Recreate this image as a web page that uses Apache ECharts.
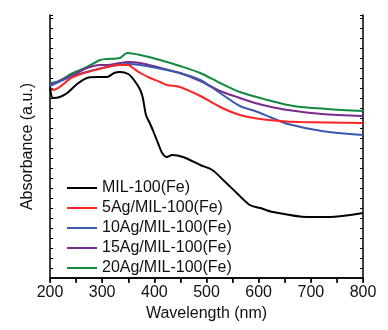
<!DOCTYPE html>
<html>
<head>
<meta charset="utf-8">
<script src="https://cdn.jsdelivr.net/npm/echarts@6/dist/echarts.min.js"></script>
<style>
  html, body { margin: 0; padding: 0; background: #fff; }
  #chart { width: 388px; height: 330px; }
</style>
</head>
<body>
<div id="chart"></div>
<script>
// wavelength (nm) / absorbance (a.u.)
var names = ["MIL-100(Fe)", "5Ag/MIL-100(Fe)", "10Ag/MIL-100(Fe)", "15Ag/MIL-100(Fe)", "20Ag/MIL-100(Fe)"];
var colors = ["#000000", "#ff2424", "#3b58ac", "#7a2c8c", "#13883f"];
var xTicks = [200, 300, 400, 500, 600, 700, 800];

var milX = [200, 206, 219, 233, 252, 271, 290, 309, 323, 334, 350, 361, 373, 378, 384, 392, 397, 407, 415, 424, 434, 455, 488, 511, 532, 558, 583, 603, 627, 693, 731, 775, 800];
var milY = [1.91, 1.80, 1.81, 1.85, 1.94, 2.00, 2.01, 2.01, 2.05, 2.06, 2.04, 1.98, 1.88, 1.80, 1.63, 1.54, 1.48, 1.35, 1.25, 1.21, 1.23, 1.21, 1.13, 1.08, 0.98, 0.85, 0.73, 0.70, 0.66, 0.61, 0.61, 0.63, 0.65];

var ag5X = [200, 206, 244, 309, 334, 350, 359, 373, 392, 411, 424, 449, 488, 526, 564, 603, 641, 679, 800];
var ag5Y = [1.90, 1.88, 2.01, 2.11, 2.13, 2.13, 2.10, 2.05, 2.00, 1.96, 1.93, 1.91, 1.82, 1.71, 1.63, 1.59, 1.57, 1.56, 1.55];

var ag10X = [200, 244, 309, 350, 373, 405, 449, 488, 526, 564, 593, 626, 656, 721, 800];
var ag10Y = [1.92, 2.02, 2.11, 2.14, 2.13, 2.10, 2.05, 1.98, 1.85, 1.72, 1.67, 1.60, 1.54, 1.47, 1.43];

var ag15X = [200, 244, 271, 296, 309, 334, 348, 373, 405, 449, 488, 526, 564, 593, 616, 656, 721, 800];
var ag15Y = [1.93, 2.03, 2.10, 2.13, 2.13, 2.15, 2.16, 2.15, 2.11, 2.05, 1.97, 1.87, 1.80, 1.75, 1.72, 1.68, 1.64, 1.62];

var ag20X = [200, 213, 244, 271, 296, 309, 334, 348, 373, 411, 449, 488, 526, 564, 603, 616, 666, 731, 800];
var ag20Y = [1.95, 1.96, 2.05, 2.11, 2.18, 2.19, 2.20, 2.25, 2.23, 2.18, 2.12, 2.05, 1.95, 1.86, 1.80, 1.78, 1.72, 1.69, 1.67];

function pairs(xs, ys) {
  return xs.map(function (x, i) { return [x, ys[i]]; });
}
var seriesData = [pairs(milX, milY), pairs(ag5X, ag5Y), pairs(ag10X, ag10Y), pairs(ag15X, ag15Y), pairs(ag20X, ag20Y)];

var myChart = echarts.init(document.getElementById("chart"));
var fontFamily = "Liberation Sans, Arial, sans-serif";

var seriesArr = names.map(function (n, i) {
  return {
    name: n,
    type: "line",
    data: seriesData[i],
    smooth: 0.3,
    symbol: "none",
    lineStyle: { color: colors[i], width: 2 },
    itemStyle: { color: colors[i] },
    z: 10 - i,
  };
});

myChart.setOption({
  animation: false,
  grid: { left: 50, right: 25, top: 15, bottom: 52 },
  legend: {
    orient: "vertical",
    left: 62,
    top: 175,
    icon: "rect",
    itemWidth: 30,
    itemHeight: 2,
    itemGap: 4,
    textStyle: { fontSize: 16, color: "#111", fontFamily: fontFamily },
    data: names,
  },
  xAxis: [
    {
      // bottom axis
      type: "value",
      min: 200,
      max: 800,
      interval: 50,
      name: "Wavelength (nm)",
      nameLocation: "middle",
      nameGap: 28,
      nameTextStyle: { fontSize: 16, color: "#111", fontFamily: fontFamily },
      axisLine: { lineStyle: { color: "#000", width: 1.5 } },
      axisTick: { show: true, inside: false, length: 5, lineStyle: { color: "#000", width: 1.5 } },
      axisLabel: {
        margin: 7,
        fontSize: 16,
        color: "#111",
        fontFamily: fontFamily,
        formatter: function (v) {
          return xTicks.indexOf(v) >= 0 ? String(v) : "";
        },
      },
      splitLine: { show: false },
    },
    {
      // top frame
      type: "value",
      position: "top",
      min: 200,
      max: 800,
      interval: 50,
      axisLine: { lineStyle: { color: "#000", width: 1.5 } },
      axisTick: { show: true, inside: true, length: 4, lineStyle: { color: "#000" } },
      axisLabel: { show: false },
      splitLine: { show: false },
    },
  ],
  yAxis: [
    {
      type: "value",
      min: 0,
      max: 2.63,
      interval: 0.1,
      name: "Absorbance (a.u.)",
      nameLocation: "middle",
      nameGap: 14,
      nameTextStyle: { fontSize: 16, color: "#111", fontFamily: fontFamily },
      axisLine: { show: true, lineStyle: { color: "#000", width: 1.5 } },
      axisTick: { show: true, inside: true, length: 3, lineStyle: { color: "#000" } },
      axisLabel: { show: false },
      splitLine: { show: false },
    },
    {
      // right frame
      type: "value",
      position: "right",
      min: 0,
      max: 2.63,
      interval: 0.1,
      axisLine: { show: true, lineStyle: { color: "#000", width: 1.5 } },
      axisTick: { show: true, inside: true, length: 3, lineStyle: { color: "#000" } },
      axisLabel: { show: false },
      splitLine: { show: false },
    },
  ],
  series: seriesArr,
});
</script>
</body>
</html>
